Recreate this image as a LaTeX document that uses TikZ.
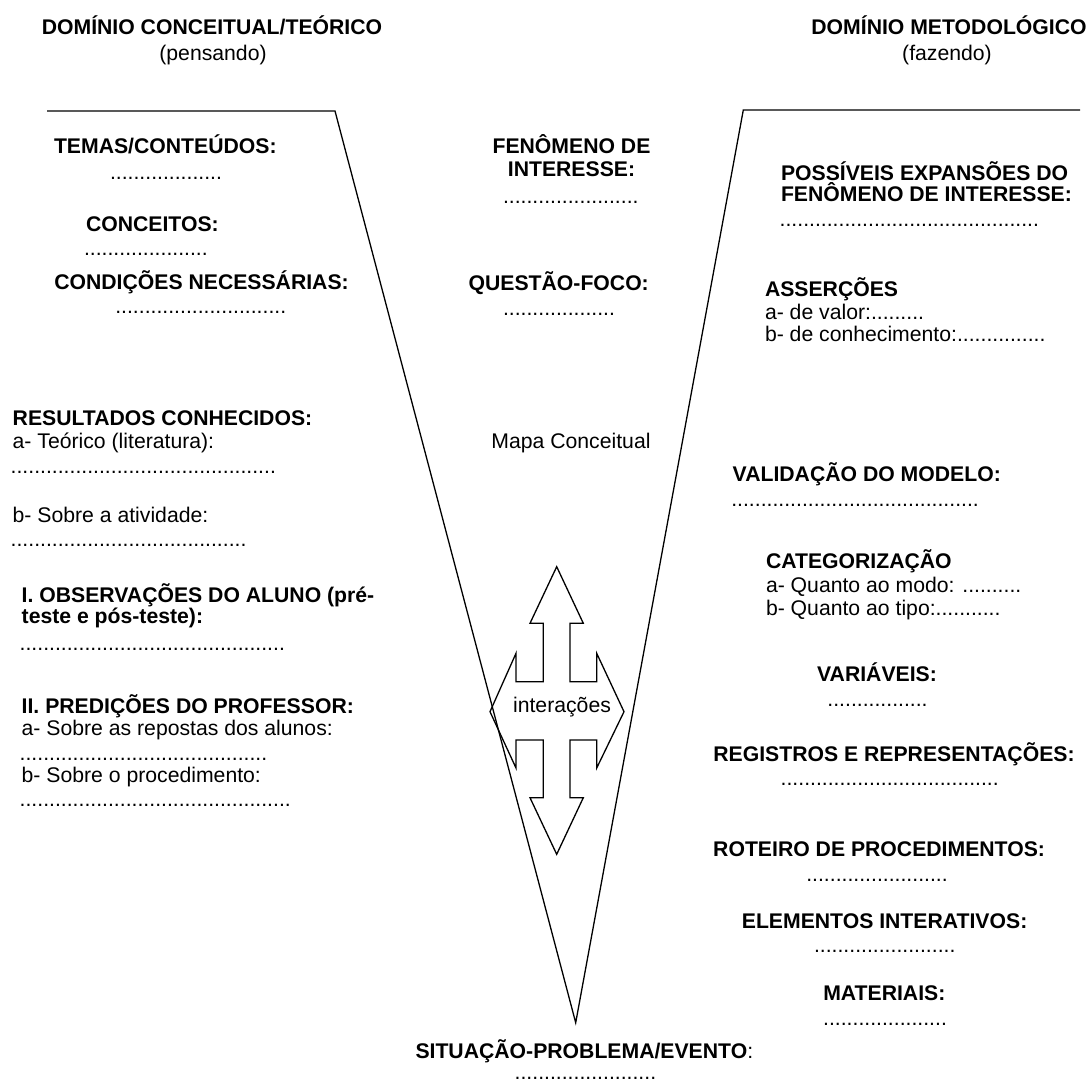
\documentclass[tikz,border=0pt]{standalone}
\usepackage{fontspec}
\setmainfont{Liberation Sans}
\newcommand{\myfs}{\fontsize{21.2}{22}\selectfont}
\tikzset{
  txt/.style={inner sep=0pt, outer sep=0pt, anchor=base west, font=\myfs},
  btxt/.style={txt, font=\myfs\bfseries},
  ctxt/.style={txt, anchor=base},
  cbtxt/.style={btxt, anchor=base},
  rbtxt/.style={btxt, anchor=base east},
  vline/.style={line width=1.3pt, line join=miter},
  arrowshape/.style={line width=1.3pt, line join=miter}
}
\begin{document}
\begin{tikzpicture}[x=1pt,y=-1pt]
\useasboundingbox (0,0) rectangle (1088,1082);

% V shape
\draw[vline] (47,111) -- (335,111) -- (575.7,1022.7) -- (743.3,110) -- (1080,110);

% four-way arrow
\draw[arrowshape] (556.7,566.7) -- (583.3,623.3) -- (570,623.3) -- (570,681.7)
  -- (596.7,681.7) -- (596.7,653.3) -- (624,711.7) -- (596.7,768) -- (596.7,740)
  -- (570,740) -- (570,797.7) -- (583.3,797.7) -- (556.7,854.3) -- (530,797.7)
  -- (543.3,797.7) -- (543.3,740) -- (516,740) -- (516,768) -- (490,711.7)
  -- (516,653.3) -- (516,681.7) -- (543.3,681.7) -- (543.3,623.3) -- (530,623.3) -- cycle;

% headers
\node[cbtxt] (hL1) at (212,34) {DOMÍNIO CONCEITUAL/TEÓRICO};
\node[ctxt]  (hL2) at (213,60) {(pensando)};
\node[cbtxt] (hR1) at (949,34) {DOMÍNIO METODOLÓGICO};
\node[ctxt]  (hR2) at (947,60) {(fazendo)};

% left column
\node[btxt] (temas)  at (54,153.3) {TEMAS/CONTEÚDOS:};
\node[txt]  (temasd) at (110,179) {...................};
\node[btxt] (conc)   at (86,231.7) {CONCEITOS:};
\node[txt]  (concd)  at (84,255.7) {.....................};
\node[btxt] (cond)   at (54.3,289.3) {CONDIÇÕES NECESSÁRIAS:};
\node[txt]  (condd)  at (115.3,313.3) {.............................};
\node[btxt] (res)    at (12.7,425) {RESULTADOS CONHECIDOS:};
\node[txt]  (resa)   at (12.7,448.5) {a- Teórico (literatura):};
\node[txt]  (resad)  at (10.7,473) {.............................................};
\node[txt]  (resb)   at (12.7,522) {b- Sobre a atividade:};
\node[txt]  (resbd)  at (10.7,546.5) {........................................};
\node[btxt] (obs1)   at (21.7,602.5) {I. OBSERVAÇÕES DO ALUNO (pré-};
\node[btxt] (obs2)   at (21.7,623.5) {teste e pós-teste):};
\node[txt]  (obsd)   at (19.7,650.7) {.............................................};
\node[btxt] (pred)   at (21.7,713.5) {II. PREDIÇÕES DO PROFESSOR:};
\node[txt]  (preda)  at (21.7,735) {a- Sobre as repostas dos alunos:};
\node[txt]  (predad) at (19.7,760.5) {..........................................};
\node[txt]  (predb)  at (21.7,782) {b- Sobre o procedimento:};
\node[txt]  (predbd) at (19.7,806.5) {..............................................};

% middle column
\node[cbtxt] (fen1) at (571.5,153.3) {FENÔMENO DE};
\node[cbtxt] (fen2) at (571.5,176.7) {INTERESSE:};
\node[txt]   (fend) at (503,203.3) {.......................};
\node[cbtxt] (ques) at (558.7,290) {QUESTÃO-FOCO:};
\node[txt]   (quesd) at (503,315) {...................};
\node[ctxt]  (mapa) at (571,448.3) {Mapa Conceitual};
\node[ctxt]  (inter) at (562,712.7) {interações};
\node[txt]   (sit) at (415.5,1058.3) {\bfseries SITUAÇÃO-PROBLEMA/EVENTO\mdseries:};
\node[txt]   (sitd) at (514.7,1079.3) {........................};

% right column
\node[btxt] (pos1) at (781,180) {POSSÍVEIS EXPANSÕES DO};
\node[btxt] (pos2) at (781,201) {FENÔMENO DE INTERESSE:};
\node[txt]  (posd) at (779.7,226.7) {............................................};
\node[btxt] (ass)  at (765,296) {ASSERÇÕES};
\node[txt]  (assa) at (765,319) {a- de valor:.........};
\node[txt]  (assb) at (765,341) {b- de conhecimento:...............};
\node[btxt] (val)  at (732.7,481.7) {VALIDAÇÃO DO MODELO:};
\node[txt]  (vald) at (731.3,506.7) {..........................................};
\node[btxt] (cat)  at (766,568.3) {CATEGORIZAÇÃO};
\node[txt]  (cata) at (766,592) {a- Quanto ao modo: ..........};
\node[txt]  (catb) at (766,615) {b- Quanto ao tipo:...........};
\node[cbtxt] (var) at (877,681.7) {VARIÁVEIS:};
\node[ctxt]  (vard) at (877.5,706.7) {.................};
\node[cbtxt] (reg) at (894,761.7) {REGISTROS E REPRESENTAÇÕES:};
\node[txt]   (regd) at (780.7,785) {.....................................};
\node[rbtxt] (rot) at (1045,856) {ROTEIRO DE PROCEDIMENTOS:};
\node[txt]   (rotd) at (806.3,881) {........................};
\node[rbtxt] (ele) at (1027.3,928.3) {ELEMENTOS INTERATIVOS:};
\node[txt]   (eled) at (814,952.7) {........................};
\node[cbtxt] (mat) at (884.3,1000.7) {MATERIAIS:};
\node[ctxt]  (matd) at (885,1025) {.....................};
\end{tikzpicture}
\end{document}
